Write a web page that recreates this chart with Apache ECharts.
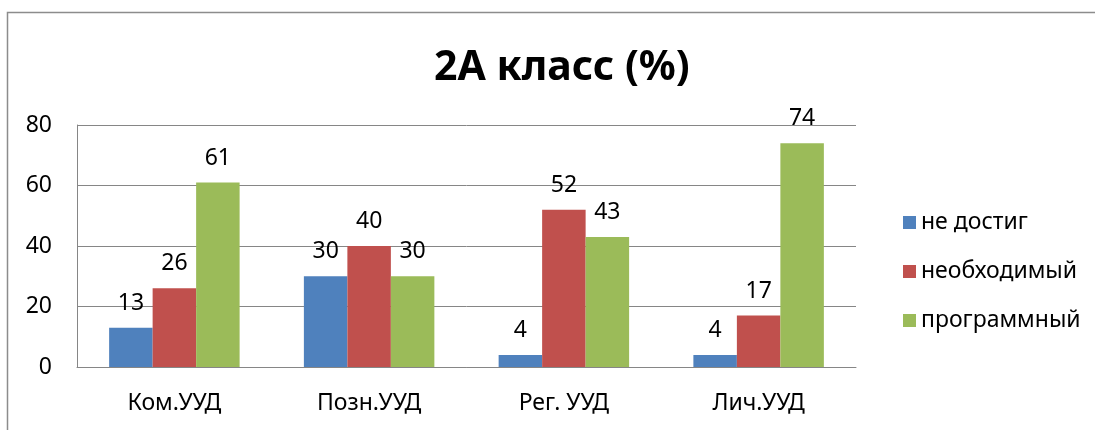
<!DOCTYPE html>
<html><head><meta charset="utf-8">
<script src="https://cdn.jsdelivr.net/npm/echarts@6/dist/echarts.min.js"></script>
<style>html,body{margin:0;padding:0;background:#fff}#c{width:1095px;height:430px}</style>
</head><body><div id="c"></div>
<script>
const categories = ['Ком.УУД', 'Позн.УУД', 'Рег. УУД', 'Лич.УУД'];
const seriesNames = ['не достиг', 'необходимый', 'программный'];
const neDostig = [13, 30, 4, 4];
const neobkhodimy = [26, 40, 52, 17];
const programmny = [61, 30, 43, 74];
const yTicks = { min: 0, max: 80, interval: 20 };
const colors = ['#4F81BD', '#C0504D', '#9BBB59'];
const FONT = '"Noto Sans", "DejaVu Sans", sans-serif';

const chart = echarts.init(document.getElementById('c'));
const values = [neDostig, neobkhodimy, programmny];
chart.setOption({
  animation: false,
  textStyle: { fontFamily: FONT },
  title: {
    text: '2А класс (%)', left: 429, top: 43,
    textStyle: { fontFamily: FONT, fontSize: 41, fontWeight: 'bold', color: '#000' }
  },
  graphic: [{
    type: 'rect', shape: { x: 7.5, y: 12.5, width: 1200, height: 600 },
    style: { fill: 'none', stroke: '#8c8c8c', lineWidth: 1.5 }, silent: true
  }],
  legend: {
    orient: 'vertical', left: 898, top: 206, itemWidth: 13, itemHeight: 13, itemGap: 26,
    icon: 'rect',
    textStyle: { fontFamily: FONT, fontSize: 23, color: '#000', lineHeight: 23 },
    data: seriesNames
  },
  grid: { left: 77, right: 239, top: 125, bottom: 63, containLabel: false },
  xAxis: {
    type: 'category', data: categories,
    axisLine: { lineStyle: { color: '#868686', width: 1 } },
    axisTick: { show: false },
    axisLabel: { fontFamily: FONT, fontSize: 23, color: '#000', margin: 25 }
  },
  yAxis: {
    type: 'value', min: yTicks.min, max: yTicks.max, interval: yTicks.interval,
    axisLine: { show: true, lineStyle: { color: '#868686', width: 1 } },
    axisTick: { show: false },
    splitLine: { lineStyle: { color: '#868686', width: 1 } },
    axisLabel: { fontFamily: FONT, fontSize: 23, color: '#000', margin: 25 }
  },
  series: seriesNames.map((n, i) => ({
    name: n, type: 'bar', data: values[i], barGap: '0%', barCategoryGap: '33%',
    itemStyle: { color: colors[i] },
    label: { show: true, position: 'top', distance: 13, fontFamily: FONT, fontSize: 23, color: '#000' }
  }))
});
</script></body></html>
